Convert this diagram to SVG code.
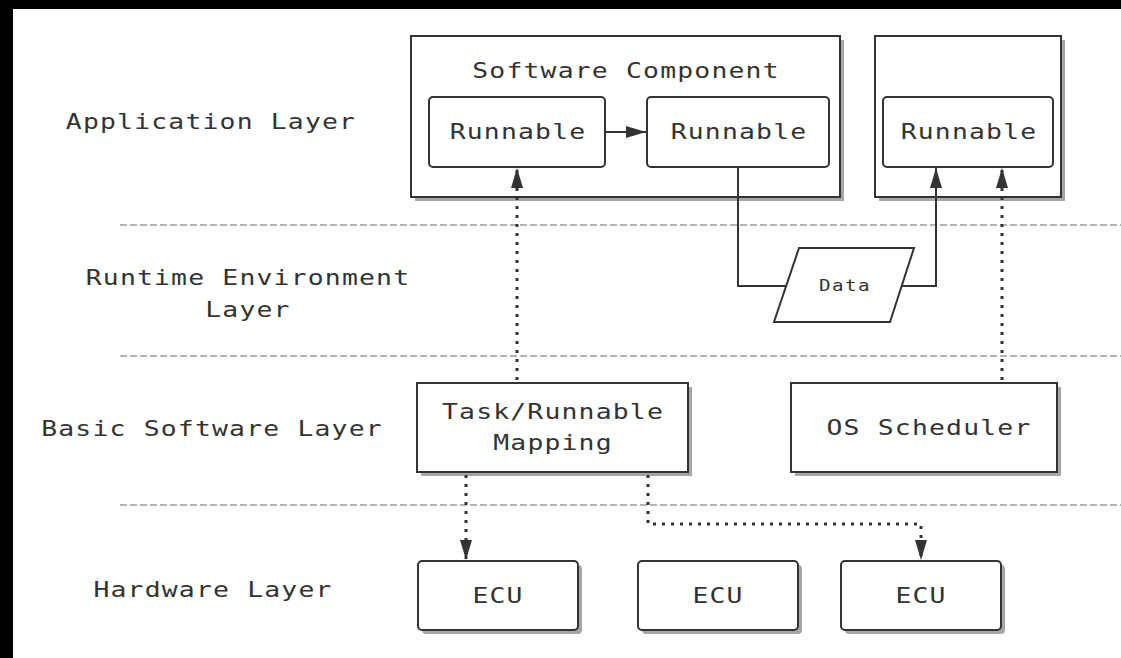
<svg xmlns="http://www.w3.org/2000/svg" width="1121" height="658" viewBox="0 0 1121 658">
<defs>
<style>
.box{fill:#fff;stroke:#333;stroke-width:2}
.sh{fill:#a6a6a6}
.t{font-family:"DejaVu Sans Mono","Liberation Mono",monospace;font-size:22px;fill:#333;letter-spacing:1px;text-anchor:middle}
.small{font-family:"DejaVu Sans Mono","Liberation Mono",monospace;font-size:16px;fill:#333;letter-spacing:1.2px;text-anchor:middle}
.sep{stroke:#9a9a9a;stroke-width:1.5;stroke-dasharray:7 3;fill:none}
.solid{stroke:#333;stroke-width:2;fill:none}
.dot{stroke:#333;stroke-width:3;stroke-dasharray:3 6;fill:none}
</style>
<marker id="ah" viewBox="0 0 20 12" refX="20" refY="6" markerWidth="20" markerHeight="12" markerUnits="userSpaceOnUse" orient="auto">
<path d="M0,0 L20,6 L0,12 Z" fill="#333"/>
</marker>
</defs>
<rect x="0" y="0" width="1121" height="658" fill="#000"/>
<rect x="13" y="9" width="1108" height="649" fill="#fff"/>

<g id="layer-labels">
<text class="t" transform="translate(211,129) scale(1.2,1)">Application Layer</text>
<text class="t" transform="translate(248,285) scale(1.2,1)">Runtime Environment</text>
<text class="t" transform="translate(248,317) scale(1.2,1)">Layer</text>
<text class="t" transform="translate(212,436) scale(1.2,1)">Basic Software Layer</text>
<text class="t" transform="translate(213,597) scale(1.2,1)">Hardware Layer</text>
</g>

<g id="separators">
<line class="sep" x1="120" y1="225" x2="1121" y2="225"/>
<line class="sep" x1="120" y1="356" x2="1121" y2="356"/>
<line class="sep" x1="120" y1="505" x2="1121" y2="505"/>
</g>

<g id="software-component">
<rect class="sh" x="415" y="40" width="429" height="161"/>
<rect class="box" x="411" y="36" width="429" height="161"/>
<text class="t" transform="translate(626,78) scale(1.2,1)">Software Component</text>
</g>
<g id="component-2">
<rect class="sh" x="879" y="40" width="186" height="161"/>
<rect class="box" x="875" y="36" width="186" height="161"/>
</g>
<g id="runnable-1">
<rect class="box" x="429" y="97" width="176" height="70" rx="4"/>
<text class="t" transform="translate(518,139) scale(1.2,1)">Runnable</text>
</g>
<g id="runnable-2">
<rect class="box" x="647" y="97" width="182" height="70" rx="4"/>
<text class="t" transform="translate(739,139) scale(1.2,1)">Runnable</text>
</g>
<g id="runnable-3">
<rect class="box" x="883" y="97" width="170" height="70" rx="4"/>
<text class="t" transform="translate(969,139) scale(1.2,1)">Runnable</text>
</g>
<g id="data">
<polygon class="box" points="799,248 914,248 890,322 774,322"/>
<text class="small" transform="translate(845,291) scale(1.2,1)">Data</text>
</g>
<g id="task-mapping">
<rect class="sh" x="421" y="387" width="271" height="89"/>
<rect class="box" x="417" y="383" width="271" height="89"/>
<text class="t" transform="translate(553,419) scale(1.2,1)">Task/Runnable</text>
<text class="t" transform="translate(553,450) scale(1.2,1)">Mapping</text>
</g>
<g id="os-scheduler">
<rect class="sh" x="795" y="387" width="266" height="89"/>
<rect class="box" x="791" y="383" width="266" height="89"/>
<text class="t" transform="translate(929,435) scale(1.2,1)">OS Scheduler</text>
</g>
<g id="ecu-1">
<rect class="sh" x="422" y="565" width="160" height="69" rx="4"/>
<rect class="box" x="418" y="561" width="160" height="69" rx="4"/>
<text class="t" transform="translate(498,603) scale(1.2,1)">ECU</text>
</g>
<g id="ecu-2">
<rect class="sh" x="642" y="565" width="160" height="69" rx="4"/>
<rect class="box" x="638" y="561" width="160" height="69" rx="4"/>
<text class="t" transform="translate(718,603) scale(1.2,1)">ECU</text>
</g>
<g id="ecu-3">
<rect class="sh" x="845" y="565" width="160" height="69" rx="4"/>
<rect class="box" x="841" y="561" width="160" height="69" rx="4"/>
<text class="t" transform="translate(921,603) scale(1.2,1)">ECU</text>
</g>

<g id="connectors">
<line class="solid" x1="605" y1="132" x2="646" y2="132" marker-end="url(#ah)"/>
<polyline class="solid" points="738,167 738,286 787,286"/>
<polyline class="solid" points="902,286 936,286 936,168" marker-end="url(#ah)"/>
<line class="dot" x1="517" y1="380" x2="517" y2="168" marker-end="url(#ah)"/>
<line class="dot" x1="1002" y1="380" x2="1002" y2="168" marker-end="url(#ah)"/>
<line class="dot" x1="466" y1="475" x2="466" y2="560" marker-end="url(#ah)"/>
<polyline class="dot" points="648,475 648,524 921,524 921,560" marker-end="url(#ah)"/>
</g>
</svg>
